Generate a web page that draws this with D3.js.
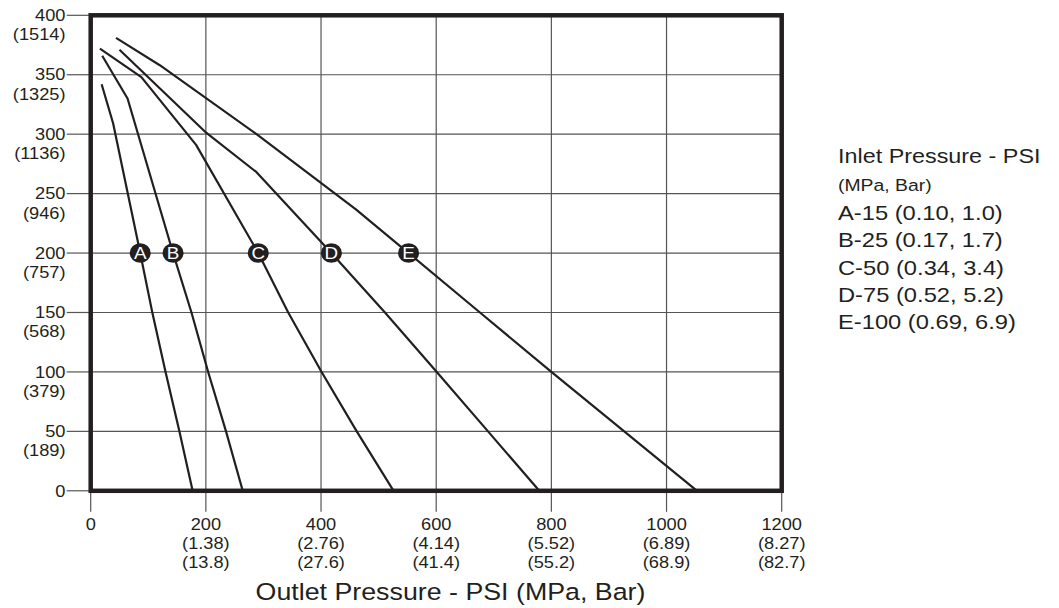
<!DOCTYPE html>
<html>
<head>
<meta charset="utf-8">
<script src="https://cdn.jsdelivr.net/npm/d3@7"></script>
<style>
  html, body { margin: 0; padding: 0; background: #fff; }
  svg { display: block; font-family: "Liberation Sans", Arial, Helvetica, sans-serif; }
</style>
</head>
<body>
<svg id="chart" width="1059" height="608"></svg>
<script>
// ---- data ----
const seriesNames = ["A", "B", "C", "D", "E"];
const outletA = [19, 39, 86, 107, 130, 154, 177];
const flowA   = [342, 309, 200, 150, 100, 50, 0];
const outletB = [20, 64, 143, 175, 204, 235, 264];
const flowB   = [366, 330, 200, 150, 100, 50, 0];
const outletC = [16, 88, 183, 291, 343, 401, 462, 526];
const flowC   = [372, 348, 291, 200, 150, 100, 50, 0];
const outletD = [50, 201, 288, 418, 511, 601, 690, 779];
const flowD   = [371, 301, 268, 200, 150, 100, 50, 0];
const outletE = [44, 120, 288, 460, 552, 676, 800, 1053];
const flowE   = [381, 358, 300, 237, 200, 150, 100, 0];
const labelFlow = 200;

const xTicks = [0, 200, 400, 600, 800, 1000, 1200];
const xMPa   = ["", "(1.38)", "(2.76)", "(4.14)", "(5.52)", "(6.89)", "(8.27)"];
const xBar   = ["", "(13.8)", "(27.6)", "(41.4)", "(55.2)", "(68.9)", "(82.7)"];
const yTicks = [0, 50, 100, 150, 200, 250, 300, 350, 400];
const yAlt   = ["", "(189)", "(379)", "(568)", "(757)", "(946)", "(1136)", "(1325)", "(1514)"];

const xTitle = "Outlet Pressure - PSI (MPa, Bar)";
const legendTitle = "Inlet Pressure - PSI";
const legendSub = "(MPa, Bar)";
const legendItems = ["A-15 (0.10, 1.0)", "B-25 (0.17, 1.7)", "C-50 (0.34, 3.4)", "D-75 (0.52, 5.2)", "E-100 (0.69, 6.9)"];

// ---- layout ----
const ink = "#231f20";
const SX = 1.14; // horizontal stretch of the reference text
const svg = d3.select("#chart");
const x = d3.scaleLinear().domain([0, 1200]).range([90.7, 781.7]);
const y = d3.scaleLinear().domain([0, 400]).range([490.8, 15.3]);

function txt(x0, y0, str, size, anchor, fill) {
  return svg.append("text")
    .attr("transform", `translate(${x0},${y0}) scale(${SX},1)`)
    .attr("text-anchor", anchor)
    .attr("fill", fill || ink)
    .style("font-size", size + "px")
    .text(str);
}

// gridlines
const grid = svg.append("g").attr("stroke", "#555").attr("stroke-width", 1.2);
xTicks.filter(v => v > 0 && v < 1200).forEach(v => {
  grid.append("line").attr("x1", x(v)).attr("x2", x(v)).attr("y1", y(400)).attr("y2", y(0));
});
yTicks.filter(v => v > 0 && v < 400).forEach(v => {
  grid.append("line").attr("x1", x(0)).attr("x2", x(1200)).attr("y1", y(v)).attr("y2", y(v));
});

// tick marks outside frame
const ticks = svg.append("g").attr("stroke", "#555").attr("stroke-width", 1.2);
xTicks.forEach(v => {
  ticks.append("line").attr("x1", x(v)).attr("x2", x(v)).attr("y1", y(0)).attr("y2", y(0) + 21);
});
yTicks.forEach(v => {
  ticks.append("line").attr("x1", x(0) - 24).attr("x2", x(0)).attr("y1", y(v)).attr("y2", y(v));
});

// tick labels
xTicks.forEach((v, i) => {
  const cx = x(v);
  txt(cx, y(0) + 39, String(v), 16, "middle");
  if (xMPa[i]) txt(cx, y(0) + 58, xMPa[i], 16, "middle");
  if (xBar[i]) txt(cx, y(0) + 77, xBar[i], 16, "middle");
});
yTicks.forEach((v, i) => {
  const cy = y(v);
  txt(65.5, cy + 5.7, String(v), 16, "end");
  if (yAlt[i]) txt(65.5, cy + 25, yAlt[i], 16, "end");
});

// curves
const series = [
  { name: "A", xs: outletA, ys: flowA },
  { name: "B", xs: outletB, ys: flowB },
  { name: "C", xs: outletC, ys: flowC },
  { name: "D", xs: outletD, ys: flowD },
  { name: "E", xs: outletE, ys: flowE }
];
const line = d3.line().x(d => x(d[0])).y(d => y(d[1]));
series.forEach(s => {
  const pts = s.xs.map((v, i) => [v, s.ys[i]]);
  svg.append("path").attr("d", line(pts))
    .attr("fill", "none").attr("stroke", ink).attr("stroke-width", 2.2)
    .attr("stroke-linejoin", "round");
});

// frame
svg.append("rect")
  .attr("x", x(0)).attr("y", y(400))
  .attr("width", x(1200) - x(0)).attr("height", y(0) - y(400))
  .attr("fill", "none").attr("stroke", ink).attr("stroke-width", 4.5);

// circle labels
series.forEach(s => {
  const i = s.ys.indexOf(labelFlow);
  const cx = x(s.xs[i]), cy = y(labelFlow);
  svg.append("ellipse").attr("cx", cx).attr("cy", cy).attr("rx", 10.5).attr("ry", 9.8).attr("fill", ink);
  txt(cx, cy + 6, s.name, 16.5, "middle", "#fff");
});

// axis title
txt(450.5, 599.5, xTitle, 23.5, "middle");

// legend
txt(838, 163, legendTitle, 20.5, "start");
txt(838, 191, legendSub, 17, "start");
legendItems.forEach((t, i) => {
  txt(838, 220 + i * 27.3, t, 20.8, "start");
});
</script>
</body>
</html>
